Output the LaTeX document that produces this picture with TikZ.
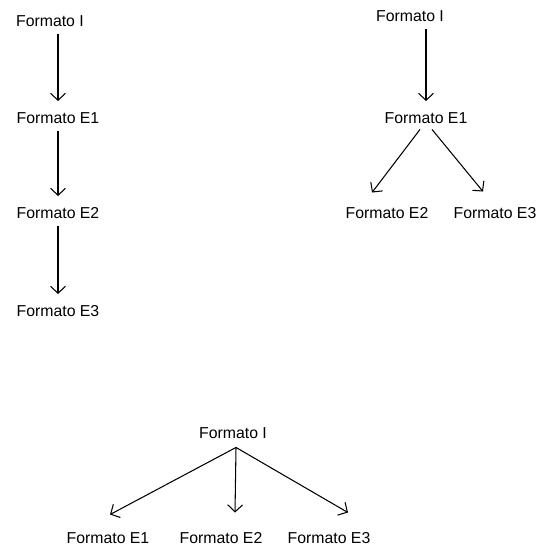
\documentclass[tikz,border=0pt]{standalone}
\usepackage{fontspec}
\setmainfont{Liberation Sans}
\usetikzlibrary{calc}
\usetikzlibrary{arrows.meta}

\begin{document}
\begin{tikzpicture}[x=0.02cm,y=-0.02cm]
\tikzstyle{fmt}=[inner sep=2pt,text height=1.6ex,text depth=.25ex,font=\fontsize{9}{11}\selectfont]
\tikzstyle{flecha}=[-{Straight Barb[length=4pt,width=8.5pt]},line width=0.6pt]
\useasboundingbox (0,0) rectangle (546,546);
% cadena lineal
\node[fmt] at(50, 20) (ci) {Formato I};
\node[fmt] at(58, 117) (ce1) {Formato E1};
\node[fmt] at(58, 212) (ce2) {Formato E2};
\node[fmt] at(58, 310) (ce3) {Formato E3};
\draw[flecha,shorten <=1pt,shorten >=2pt] (ce1.north |- ci.south) -- (ce1.north);
\draw[flecha,shorten <=1pt,shorten >=2pt] (ce1.south) -- (ce2.north);
\draw[flecha,shorten <=1pt,shorten >=2pt] (ce2.south) -- (ce3.north);
% arbol a la derecha
\node[fmt] at(410, 15) (ai) {Formato I};
\node[fmt] at(426, 117) (ae1) {Formato E1};
\node[fmt] at(387, 212) (ae2) {Formato E2};
\node[fmt] at(495, 212) (ae3) {Formato E3};
\draw[flecha,shorten <=1pt,shorten >=2pt] (ae1.north |- ai.south) -- (ae1.north);
\draw[flecha] ($(ae1.south)+(-6,0)$) -- ($(ae2.north)+(-15,-7)$);
\draw[flecha] ($(ae1.south)+(6,0)$) -- ($(ae3.north)+(-12,-8)$);
% abanico abajo
\node[fmt] at(233, 432) (bi) {Formato I};
\node[fmt] at(108, 537) (be1) {Formato E1};
\node[fmt] at(221, 537) (be2) {Formato E2};
\node[fmt] at(329, 537) (be3) {Formato E3};
\coordinate (apex) at ($(bi.south)+(3,3)$);
\draw[flecha] (apex) -- ($(be1.north)+(2,-10)$);
\draw[flecha] (apex) -- ($(be2.north)+(14,-12)$);
\draw[flecha] (apex) -- ($(be3.north)+(19,-12)$);
\end{tikzpicture}
\end{document}
